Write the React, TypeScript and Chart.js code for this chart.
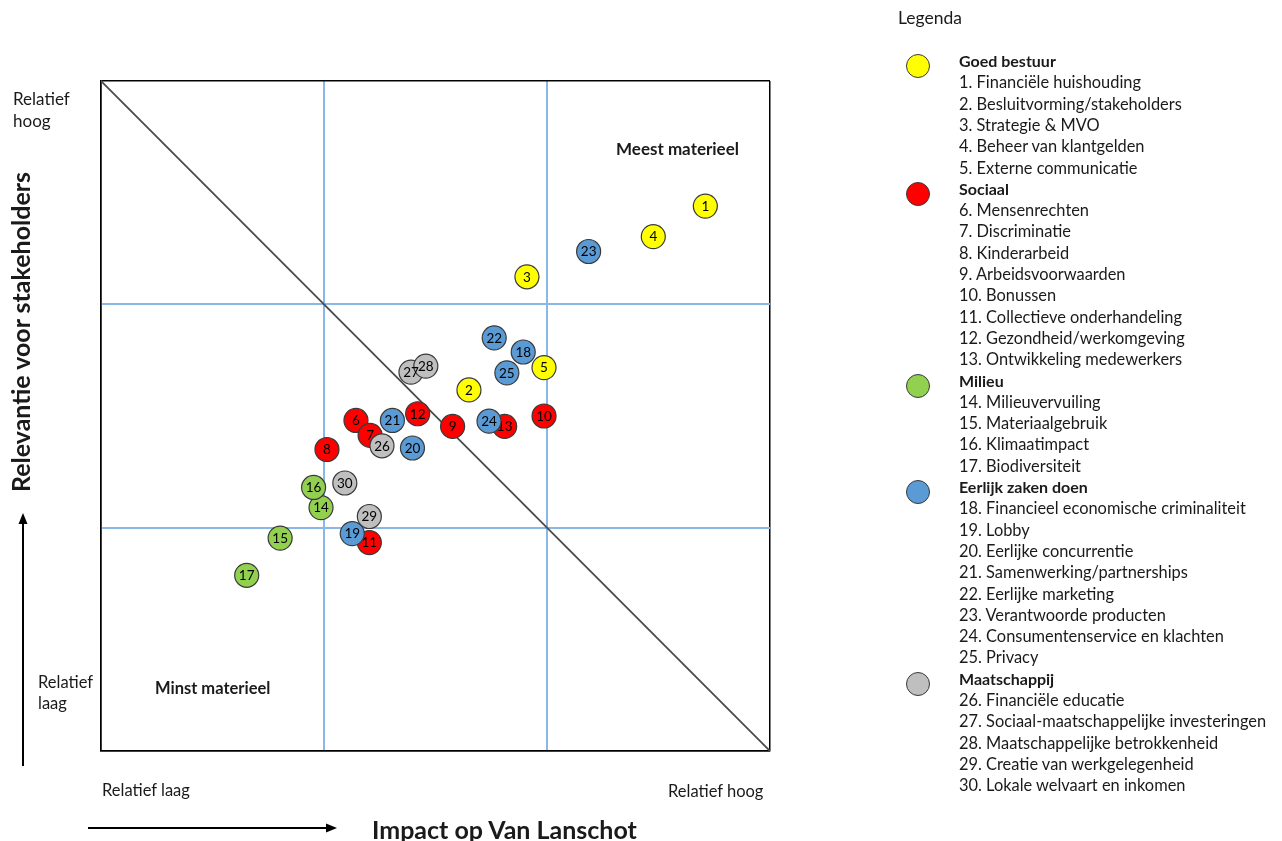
import React, { useEffect, useRef } from "react";
import { Chart, registerables } from "chart.js";

Chart.register(...registerables);

// Axis domain (impact / relevance), quadrant boundaries at 3 and 6
const axisMin = 0;
const axisMax = 9;
const quadrantTicks = [0, 3, 6, 9];

// Goed bestuur
const goedIds = [1, 2, 3, 4, 5];
const goedX = [8.13, 4.95, 5.73, 7.43, 5.96];
const goedY = [7.32, 4.85, 6.37, 6.91, 5.15];

// Sociaal
const sociaalIds = [6, 7, 8, 9, 10, 11, 12, 13];
const sociaalX = [3.43, 3.62, 3.04, 4.73, 5.96, 3.61, 4.26, 5.43];
const sociaalY = [4.44, 4.24, 4.05, 4.36, 4.5, 2.8, 4.53, 4.36];

// Milieu
const milieuIds = [14, 15, 16, 17];
const milieuX = [2.96, 2.41, 2.86, 1.96];
const milieuY = [3.27, 2.86, 3.54, 2.36];

// Eerlijk zaken doen
const eerlijkIds = [18, 19, 20, 21, 22, 23, 24, 25];
const eerlijkX = [5.68, 3.38, 4.19, 3.92, 5.29, 6.56, 5.22, 5.46];
const eerlijkY = [5.36, 2.92, 4.07, 4.44, 5.55, 6.71, 4.43, 5.08];

// Maatschappij
const maatIds = [26, 27, 28, 29, 30];
const maatX = [3.78, 4.17, 4.37, 3.61, 3.28];
const maatY = [4.1, 5.09, 5.17, 3.15, 3.6];

const categoryNames = ["Goed bestuur", "Sociaal", "Milieu", "Eerlijk zaken doen", "Maatschappij"];
const categoryColors = ["#FFFF00", "#FF0000", "#92D050", "#5B9BD5", "#BFBFBF"];

const goedItems = [
  "1. Financiële huishouding",
  "2. Besluitvorming/stakeholders",
  "3. Strategie & MVO",
  "4. Beheer van klantgelden",
  "5. Externe communicatie",
];
const sociaalItems = [
  "6. Mensenrechten",
  "7. Discriminatie",
  "8. Kinderarbeid",
  "9. Arbeidsvoorwaarden",
  "10. Bonussen",
  "11. Collectieve onderhandeling",
  "12. Gezondheid/werkomgeving",
  "13. Ontwikkeling medewerkers",
];
const milieuItems = ["14. Milieuvervuiling", "15. Materiaalgebruik", "16. Klimaatimpact", "17. Biodiversiteit"];
const eerlijkItems = [
  "18. Financieel economische criminaliteit",
  "19. Lobby",
  "20. Eerlijke concurrentie",
  "21. Samenwerking/partnerships",
  "22. Eerlijke marketing",
  "23. Verantwoorde producten",
  "24. Consumentenservice en klachten",
  "25. Privacy",
];
const maatItems = [
  "26. Financiële educatie",
  "27. Sociaal-maatschappelijke investeringen",
  "28. Maatschappelijke betrokkenheid",
  "29. Creatie van werkgelegenheid",
  "30. Lokale welvaart en inkomen",
];

const FONT = "Lato, 'Open Sans', sans-serif";

function buildPoints(ids: number[], xs: number[], ys: number[]) {
  return ids.map((id, i) => ({ x: xs[i], y: ys[i], id }));
}

const labelPlugin = {
  id: "pointLabels",
  afterDatasetDraw(chart: any, args: any) {
    const ds = chart.data.datasets[args.index];
    if (!ds.showIds) return;
    const ctx = chart.ctx;
    ctx.save();
    ctx.font = `13.5px ${FONT}`;
    ctx.fillStyle = "#000";
    ctx.textAlign = "center";
    ctx.textBaseline = "middle";
    args.meta.data.forEach((el: any, i: number) => {
      ctx.fillText(String(ds.data[i].id), el.x, el.y + 0.5);
    });
    ctx.restore();
  },
};

function ChartCanvas() {
  const ref = useRef<HTMLCanvasElement | null>(null);
  useEffect(() => {
    if (!ref.current) return;
    const groups = [
      buildPoints(goedIds, goedX, goedY),
      buildPoints(sociaalIds, sociaalX, sociaalY),
      buildPoints(milieuIds, milieuX, milieuY),
      buildPoints(eerlijkIds, eerlijkX, eerlijkY),
      buildPoints(maatIds, maatX, maatY),
    ];
    const datasets: any[] = groups.map((pts, gi) => ({
      type: "scatter",
      label: categoryNames[gi],
      data: pts,
      showIds: true,
      backgroundColor: categoryColors[gi],
      borderColor: "#3a3a3a",
      borderWidth: 1.2,
      pointRadius: 12,
      pointHoverRadius: 12,
      order: 5 - gi,
    }));
    datasets.push({
      type: "line",
      label: "diagonaal",
      data: [
        { x: axisMin, y: axisMax },
        { x: axisMax, y: axisMin },
      ],
      borderColor: "#4a4a4a",
      borderWidth: 1.8,
      pointRadius: 0,
      fill: false,
      order: 20,
    });
    const gridColor = (c: any) =>
      c.tick && (c.tick.value === axisMin || c.tick.value === axisMax) ? "#000000" : "#8AB8E6";
    const gridWidth = (c: any) =>
      c.tick && (c.tick.value === axisMin || c.tick.value === axisMax) ? 1.5 : 2;
    const chart = new Chart(ref.current, {
      type: "scatter",
      data: { datasets },
      plugins: [labelPlugin],
      options: {
        responsive: false,
        animation: false,
        layout: { padding: { left: 101, top: 81, right: 512, bottom: 90 } },
        plugins: { legend: { display: false }, tooltip: { enabled: false } },
        scales: {
          x: {
            type: "linear",
            min: axisMin,
            max: axisMax,
            afterBuildTicks: (s: any) => {
              s.ticks = quadrantTicks.map((v) => ({ value: v }));
            },
            ticks: { display: false },
            grid: { color: gridColor, lineWidth: gridWidth, drawTicks: false },
            border: { display: true, color: "#000", width: 1.5 },
          },
          y: {
            type: "linear",
            min: axisMin,
            max: axisMax,
            afterBuildTicks: (s: any) => {
              s.ticks = quadrantTicks.map((v) => ({ value: v }));
            },
            ticks: { display: false },
            grid: { color: gridColor, lineWidth: gridWidth, drawTicks: false },
            border: { display: true, color: "#000", width: 1.5 },
          },
        },
      } as any,
    });
    return () => chart.destroy();
  }, []);
  return (
    <canvas
      ref={ref}
      width={1282}
      height={841}
      style={{ position: "absolute", left: 0, top: 0, width: 1282, height: 841 }}
    />
  );
}

const textBase: React.CSSProperties = {
  position: "absolute",
  fontFamily: FONT,
  color: "#1a1a1a",
  whiteSpace: "nowrap",
  lineHeight: "1",
};

function T(props: { x: number; y: number; size: number; bold?: boolean; children: React.ReactNode }) {
  return (
    <div
      style={{
        ...textBase,
        left: props.x,
        top: props.y,
        fontSize: props.size,
        fontWeight: props.bold ? 700 : 400,
        transform: "translateY(-50%)",
      }}
    >
      {props.children}
    </div>
  );
}

function Legend() {
  const groups = [goedItems, sociaalItems, milieuItems, eerlijkItems, maatItems];
  const rows: React.ReactNode[] = [];
  let line = 0;
  const y0 = 61;
  const step = 21.3;
  groups.forEach((items, gi) => {
    const yh = y0 + line * step;
    rows.push(
      <div
        key={"c" + gi}
        style={{
          position: "absolute",
          left: 918 - 12,
          top: yh + 5 - 12,
          width: 24,
          height: 24,
          boxSizing: "border-box",
          borderRadius: "50%",
          border: "1.3px solid #3a3a3a",
          background: categoryColors[gi],
        }}
      />
    );
    rows.push(
      <T key={"h" + gi} x={959} y={yh} size={16} bold>
        {categoryNames[gi]}
      </T>
    );
    line++;
    items.forEach((it, ii) => {
      rows.push(
        <T key={"i" + gi + "-" + ii} x={959} y={y0 + line * step} size={16.4}>
          {it}
        </T>
      );
      line++;
    });
  });
  return <>{rows}</>;
}

export default function App() {
  return (
    <div
      style={{
        position: "absolute",
        left: 0,
        top: 0,
        width: 1282,
        height: 841,
        overflow: "hidden",
        background: "#fff",
      }}
    >
      <ChartCanvas />
      <T x={13} y={98} size={17}>Relatief</T>
      <T x={13} y={120} size={17}>hoog</T>
      <T x={38} y={682} size={16.5}>Relatief</T>
      <T x={38} y={703} size={16.5}>laag</T>
      <T x={102} y={790} size={16.5}>Relatief laag</T>
      <T x={668} y={791} size={16.5}>Relatief hoog</T>
      <T x={616} y={148} size={17} bold>Meest materieel</T>
      <T x={155} y={688} size={16.5} bold>Minst materieel</T>
      <T x={898} y={18} size={17.5}>Legenda</T>
      <T x={372} y={829} size={25} bold>Impact op Van Lanschot</T>
      <div
        style={{
          ...textBase,
          left: 20,
          top: 332,
          fontSize: 25,
          fontWeight: 700,
          transform: "translate(-50%, -50%) rotate(-90deg)",
        }}
      >
        Relevantie voor stakeholders
      </div>
      <svg
        width={1282}
        height={841}
        style={{ position: "absolute", left: 0, top: 0, pointerEvents: "none" }}
      >
        <line x1={88} y1={828} x2={328} y2={828} stroke="#000" strokeWidth={2} />
        <polygon points="337,828 326,823.5 326,832.5" fill="#000" />
        <line x1={23} y1={766} x2={23} y2={522} stroke="#000" strokeWidth={2} />
        <polygon points="23,513 18.5,524 27.5,524" fill="#000" />
      </svg>
      <Legend />
    </div>
  );
}
